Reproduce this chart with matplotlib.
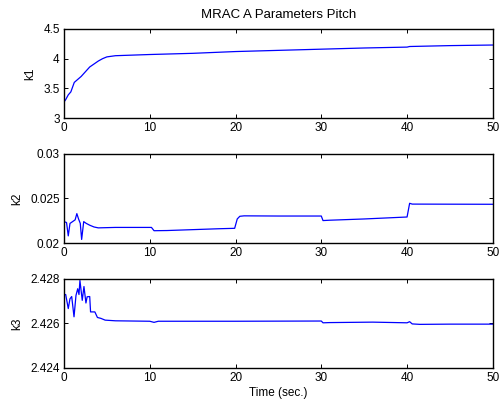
import matplotlib.pyplot as plt

plt.rcParams['font.family'] = ['Liberation Sans', 'DejaVu Sans']
plt.rcParams['font.size'] = 8.5

# k1 estimate
t1 = [0, 0.2, 0.5, 0.8, 1.0, 1.2, 1.6, 2.0, 2.5, 3.0, 3.5, 4.0, 4.5, 5.0, 6.0, 8.0,
      10, 15, 20, 25, 30, 35, 40, 40.3, 45, 50]
k1 = [3.27, 3.31, 3.39, 3.44, 3.52, 3.60, 3.65, 3.70, 3.78, 3.86, 3.91, 3.96, 4.00, 4.03,
      4.05, 4.06, 4.07, 4.09, 4.12, 4.14, 4.16, 4.18, 4.195, 4.205, 4.22, 4.23]

# k2 estimate
t2 = [0, 0.3, 0.5, 0.7, 1.0, 1.3, 1.5, 1.7, 1.9, 2.06, 2.3, 2.6, 3.0, 3.5, 4.0, 6.0,
      8.0, 10.2, 10.5, 12, 15, 18, 19.9, 20.2, 20.5, 21, 25, 30, 30.2, 31, 35, 40,
      40.3, 40.6, 45, 50]
k2 = [0.0224, 0.0223, 0.0208, 0.0222, 0.0224, 0.0226, 0.0233, 0.0227, 0.0222, 0.0204,
      0.0224, 0.0222, 0.0220, 0.0218, 0.0217, 0.02175, 0.02175, 0.02175, 0.02138,
      0.02140, 0.02150, 0.02160, 0.02165, 0.0227, 0.0230, 0.02305, 0.02303, 0.02303,
      0.02252, 0.02256, 0.02270, 0.02292, 0.02446, 0.02437, 0.02436, 0.02435]

# k3 estimate
t3 = [0, 0.2, 0.5, 0.7, 0.9, 1.17, 1.4, 1.6, 1.75, 1.86, 2.13, 2.33, 2.56, 2.7, 3.0,
      3.1, 3.6, 3.9, 4.3, 4.8, 6.0, 10, 10.5, 11, 20, 30, 30.2, 31, 36, 40, 40.3,
      40.6, 41.5, 45, 50]
k3 = [2.42730, 2.42730, 2.42667, 2.42711, 2.42721, 2.42630, 2.42726, 2.42756, 2.42730,
      2.42793, 2.42704, 2.42766, 2.42692, 2.42720, 2.42721, 2.42652, 2.42652, 2.42627,
      2.42623, 2.42615, 2.42612, 2.42610, 2.42605, 2.42610, 2.42610, 2.42611, 2.42603,
      2.42604, 2.42606, 2.42603, 2.42608, 2.42598, 2.42596, 2.42597, 2.42597]

xticks = [0, 10, 20, 30, 40, 50]

fig = plt.figure(figsize=(5.01, 4.05), dpi=100)

panels = [
    (t1, k1, 'k1', [3, 3.5, 4, 4.5], ['3', '3.5', '4', '4.5'], 0.7086),
    (t2, k2, 'k2', [0.02, 0.025, 0.03], ['0.02', '0.025', '0.03'], 0.400),
    (t3, k3, 'k3', [2.424, 2.426, 2.428], ['2.424', '2.426', '2.428'], 0.0914),
]

axes = []
for t, k, name, yt, ylab, bottom in panels:
    ax = fig.add_axes([0.1277, bottom, 0.856, 0.2198])
    ax.plot(t, k, color='#0000ff', linewidth=0.9)
    ax.set_xlim(0, 50)
    ax.set_ylim(yt[0], yt[-1])
    ax.set_xticks(xticks)
    ax.set_xticklabels([str(v) for v in xticks])
    ax.set_yticks(yt)
    ax.set_yticklabels(ylab)
    ax.set_ylabel(name, labelpad=5)
    ax.tick_params(direction='in', top=True, right=True, length=3, width=0.7, pad=3)
    for s in ax.spines.values():
        s.set_linewidth(1.0)
    axes.append(ax)

axes[0].set_title('MRAC A Parameters Pitch', fontsize=9.5, pad=8)
axes[2].set_xlabel('Time (sec.)', labelpad=2)

fig.savefig('out.png', dpi=100)
